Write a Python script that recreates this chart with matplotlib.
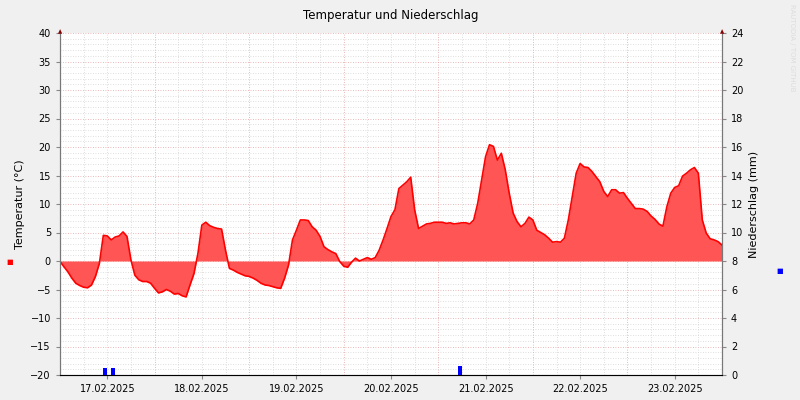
import matplotlib
matplotlib.use("Agg")
import matplotlib.pyplot as plt
import numpy as np

temp = [-0.1,-1,-1.9,-3,-3.9,-4.3,-4.6,-4.7,-4.2,-2.7,-0.4,4.5,4.4,3.7,4.2,4.4,5.1,4.3,0.2,-2.5,-3.3,-3.6,-3.6,-3.9,
        -4.8,-5.6,-5.4,-5,-5.3,-5.8,-5.7,-6.1,-6.3,-4.2,-2.2,1.3,6.3,6.8,6.2,5.9,5.7,5.6,1.9,-1.3,-1.6,-2,-2.3,-2.6,
        -2.7,-3,-3.4,-3.9,-4.2,-4.3,-4.5,-4.7,-4.8,-3,-0.7,3.7,5.4,7.2,7.2,7.1,6,5.4,4.3,2.5,2,1.6,1.3,-0.1,
        -0.9,-1.1,-0.2,0.5,0,0.3,0.6,0.3,0.6,1.9,3.7,5.7,7.8,9,12.7,13.3,13.9,14.7,9,5.7,6.1,6.5,6.6,6.8,
        6.8,6.8,6.6,6.7,6.5,6.6,6.7,6.7,6.5,7.2,10.1,14.2,18.3,20.4,20.1,17.7,18.9,16,11.9,8.4,6.9,6,6.6,7.7,
        7.2,5.4,5,4.6,4,3.3,3.4,3.3,4,7.2,11.3,15.4,17.1,16.5,16.4,15.7,14.8,13.9,12.2,11.3,12.5,12.5,11.9,12,
        11,10.1,9.2,9.2,9.1,8.7,7.9,7.3,6.5,6.1,9.5,11.9,12.9,13.2,14.9,15.4,16,16.4,15.4,7.2,4.9,3.9,3.7,3.4,2.8]
hours = np.arange(len(temp))
rain_hours = [11.4, 13.5, 101.5]
rain_mm = [0.5, 0.5, 0.6]
day_labels = ["17.02.2025","18.02.2025","19.02.2025","20.02.2025","21.02.2025","22.02.2025","23.02.2025"]

fig = plt.figure(figsize=(8,4), dpi=100, facecolor="#f0f0f0")
ax = fig.add_axes([0.075, 0.0625, 0.8275, 0.855])
ax.set_facecolor("white")
ax.set_xlim(0, 168)
ax.set_ylim(-20, 40)
for t in range(-20, 41):
    ax.axhline(t, color="#e6a0a0" if t % 5 == 0 else "#d4d4d4", lw=0.6, ls=(0,(1,2)), zorder=0)
for h in range(0, 169, 6):
    ax.axvline(h, color="#e6a0a0" if h % 24 == 0 else "#d4d4d4", lw=0.6, ls=(0,(1,2)), zorder=0)
ax.fill_between(hours, temp, 0, color="#ff5555", lw=0, zorder=2)
ax.plot(hours, temp, color="#ff0000", lw=1.2, zorder=3)
ax.set_yticks(range(-20, 41, 5))
ax.set_xticks([12 + 24*i for i in range(7)])
ax.set_xticklabels(day_labels)
ax.tick_params(labelsize=7, length=3, color="#888888")
ax.set_ylabel("Temperatur (°C)", fontsize=8)
ax.spines["top"].set_visible(False)
for s in ["left","right","bottom"]:
    ax.spines[s].set_color("#777777")

ax2 = ax.twinx()
ax2.set_ylim(0, 24)
ax2.set_yticks(range(0, 25, 2))
ax2.tick_params(labelsize=7, length=3, color="#888888")
ax2.bar(rain_hours, rain_mm, width=1.0, color="#0000ff", zorder=4)
ax2.set_ylabel("Niederschlag (mm)", fontsize=8)
ax2.spines["top"].set_visible(False)
ax2.spines["right"].set_color("#777777")
ax2.spines["left"].set_color("#777777")

ax.set_title("Temperatur und Niederschlag", fontsize=8.5, pad=10)
fig.text(0.0125, 0.345, "■", color="#ff0000", fontsize=5, ha="center", va="center")
fig.text(0.975, 0.322, "■", color="#0000ff", fontsize=5, ha="center", va="center")
fig.text(0.99, 0.88, "RAUTODIA / TOM GITHUB", color="#dddddd", fontsize=5, rotation=270, ha="center", va="center")
fig.text(0.075, 0.92, "▲", color="#880000", fontsize=4, ha="center", va="center")
fig.text(0.9025, 0.92, "▲", color="#880000", fontsize=4, ha="center", va="center")
fig.savefig("out.png", dpi=100, facecolor=fig.get_facecolor())
